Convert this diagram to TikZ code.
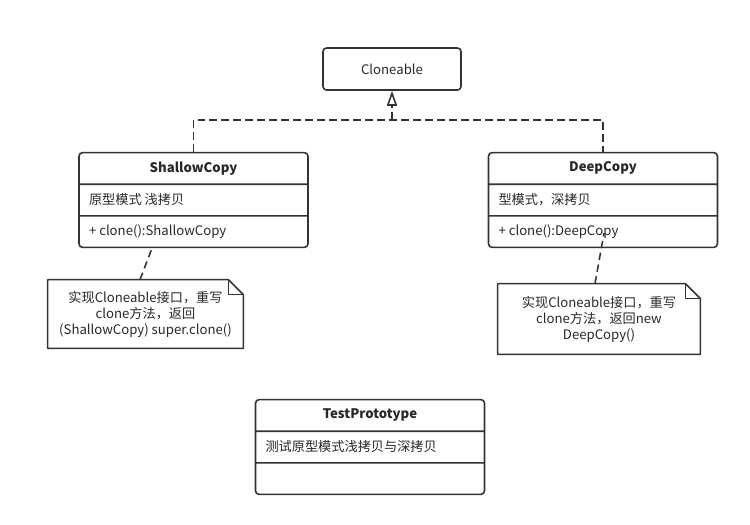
\documentclass[tikz,border=0pt]{standalone}
\usepackage{fontspec}
\setmainfont{Noto Sans CJK SC}
\usetikzlibrary{shapes.multipart, arrows.meta, positioning}
\definecolor{umlline}{RGB}{51,51,51}
\definecolor{umltext}{RGB}{40,40,40}
\newcommand{\rowtitle}[1]{\parbox[c][0.6cm][c]{4.58cm}{\centering\bfseries #1}}
\newcommand{\rowitem}[1]{\parbox[c][0.6cm][c]{4.58cm}{\hspace*{0.2cm}#1}}
\tikzset{
  umlclass/.style={
    rectangle split, rectangle split parts=3, draw=umlline, line width=0.9pt,
    rounded corners=2pt, inner sep=0pt, fill=white,
    font=\fontsize{7.5}{9}\selectfont, text=umltext
  },
  iface/.style={
    rectangle, draw=umlline, line width=0.9pt, rounded corners=2pt,
    minimum width=2.76cm, minimum height=0.84cm,
    font=\fontsize{7.5}{9}\selectfont, text=umltext
  },
  notebox/.style={
    rectangle, inner sep=0pt, align=center,
    font=\fontsize{7.5}{9.1}\selectfont, text=umltext
  },
  noteline/.style={draw=umlline, line width=0.9pt, line join=round},
  dashline/.style={draw=umlline, line width=0.9pt, dash pattern=on 0.15cm off 0.09cm},
  realize/.style={dashline, -{Triangle[open, length=0.3cm, width=0.2cm, line width=0.9pt]}}
}
\begin{document}
\begin{tikzpicture}[x=0.02cm, y=-0.02cm]
  \useasboundingbox (0,0) rectangle (750,524);

  % Interface
  \node[iface] (cloneable) at (392,69) {Cloneable};

  % Classes
  \node[umlclass] (shallow) at (193.5,200)
    {\rowtitle{ShallowCopy}
     \nodepart{second}\rowitem{原型模式 浅拷贝}
     \nodepart{third}\rowitem{+ clone():ShallowCopy}};
  \node[umlclass] (deep) at (603,200)
    {\rowtitle{DeepCopy}
     \nodepart{second}\rowitem{型模式，深拷贝}
     \nodepart{third}\rowitem{+ clone():DeepCopy}};
  \node[umlclass] (test) at (370,447)
    {\rowtitle{TestPrototype}
     \nodepart{second}\rowitem{测试原型模式浅拷贝与深拷贝}
     \nodepart{third}\rowitem{}};

  % Notes
  \node[notebox, minimum width=3.9cm, minimum height=1.36cm] (noteshallow) at (145.5,314)
    {实现Cloneable接口，重写\\clone方法，返回\\(ShallowCopy) super.clone()};
  \node[notebox, minimum width=4.04cm, minimum height=1.4cm] (notedeep) at (599,319)
    {实现Cloneable接口，重写\\clone方法，返回new\\DeepCopy()};
  \foreach \n in {noteshallow, notedeep} {
    \draw[noteline] (\n.south west) -- (\n.north west)
      -- ([xshift=-0.3cm]\n.north east) -- ([yshift=-0.3cm]\n.north east)
      -- (\n.south east) -- cycle;
    \draw[noteline] ([xshift=-0.3cm]\n.north east) |- ([yshift=-0.3cm]\n.north east);
  }

  % Realization
  \coordinate (bus) at ([yshift=0.64cm]shallow.north);
  \draw[dashline] (shallow.north) -- (bus) -| (deep.north);
  \draw[realize] (bus -| cloneable.south) -- (cloneable.south);

  % Note links
  \draw[dashline] ([xshift=-0.11cm]noteshallow.north) -- ([xshift=-0.83cm]shallow.south);
  \draw[dashline] ([xshift=-0.08cm]notedeep.north) -- ([xshift=0.02cm, yshift=0.3cm]deep.south);
\end{tikzpicture}
\end{document}
